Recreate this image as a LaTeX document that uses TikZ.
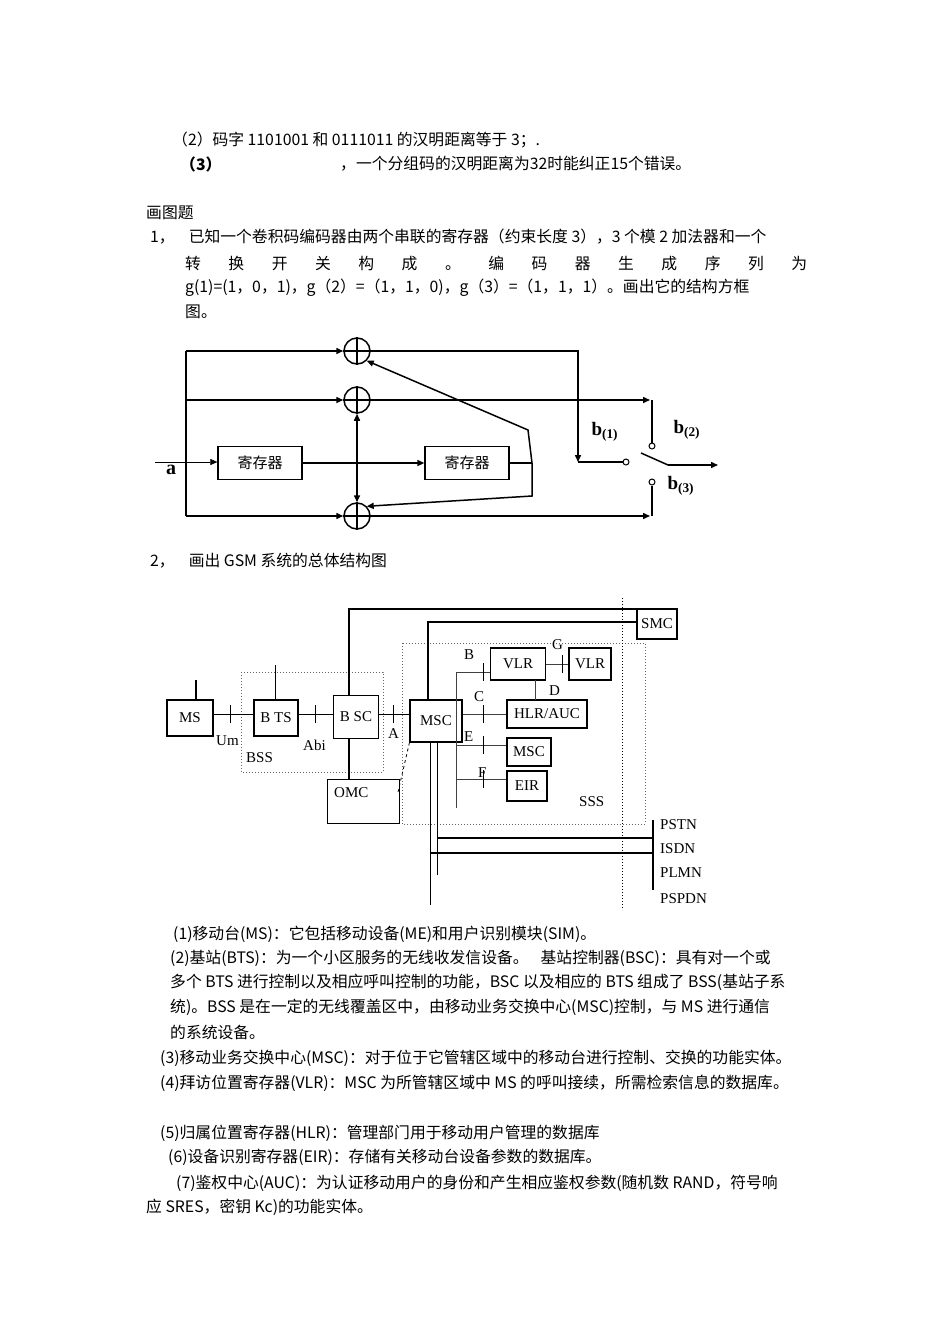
\documentclass[tikz,border=0pt]{standalone}
\usepackage{fontspec}
\setmainfont{Noto Sans CJK SC}
\newfontfamily\serifl{Liberation Serif}
\usetikzlibrary{arrows.meta}
\begin{document}
\begin{tikzpicture}[x=1pt,y=-1pt,
  txt/.style={anchor=west,inner sep=0pt,font=\fontsize{15.8}{18}\selectfont},
  reg/.style={draw,line width=1.3pt,minimum width=84pt,minimum height=33pt,inner sep=0pt,font=\fontsize{15}{17}\selectfont},
  adder/.style={draw,circle,line width=1.5pt,minimum size=26pt,inner sep=0pt},
  th/.style={line width=1.5pt},
  arr/.style={-{Triangle[length=7pt,width=6pt]}},
  box/.style={draw,line width=1.1pt,inner sep=0pt,font=\serifl\fontsize{15}{17}\selectfont},
  gl/.style={font=\serifl\fontsize{15}{17}\selectfont,inner sep=0pt,anchor=west},
  bus/.style={draw=black!75,line width=1pt},
  dot/.style={draw=black!60,dotted,line width=1pt}]
\useasboundingbox (0,0) rectangle (950,1344);
% top text
\node[txt] (t1) at (172,140) {（2）码字 1101001 和 0111011 的汉明距离等于 3；.};
\node[txt,font=\bfseries\fontsize{15.8}{18}\selectfont] (t2) at (180,164) {（3）};
\node[txt] (t3) at (340,164) {，一个分组码的汉明距离为32时能纠正15个错误。};
\node[txt] (t4) at (146,213) {画图题};
\node[txt] (t5) at (150,237) {1，\hspace{14pt}已知一个卷积码编码器由两个串联的寄存器（约束长度 3），3 个模 2 加法器和一个};
\node[txt,text width=622pt,align=flush left] (t6) at (185,263) {转\hfill 换\hfill 开\hfill 关\hfill 构\hfill 成\hfill 。\hfill 编\hfill 码\hfill 器\hfill 生\hfill 成\hfill 序\hfill 列\hfill 为};
\node[txt] (t7) at (185,288) {g(1)=(1，0，1)，g（2）=（1，1，0)，g（3）=（1，1，1）。画出它的结构方框};
\node[txt] (t8) at (185,312) {图。};
% encoder
\node[adder] (s1) at (357,351) {};
\node[adder] (s2) at (357,400) {};
\node[adder] (s3) at (357,516) {};
\foreach \s in {s1,s2,s3}{\draw[th] (\s.north)--(\s.south) (\s.west)--(\s.east);}
\node[reg] (r1) at (260,463) {寄存器};
\node[reg] (r2) at (467,463) {寄存器};
\node[font=\serifl\bfseries\fontsize{20}{22}\selectfont] (a) at (171,470) {a};
\coordinate (ain) at (155,462);
\draw[arr,line width=0.5pt] (ain) -- (r1.west |- ain);
\draw[th] (186,351)--(186,516);
\draw[th,arr] (186,351)--(s1.west);
\draw[th,arr] (186,400)--(s2.west);
\draw[th,arr] (186,516)--(s3.west);
\draw[th,arr] (r1.east)--(r2.west);
\draw[th,{Triangle[length=7pt,width=6pt]}-{Triangle[length=7pt,width=6pt]}] (s2.south)--(s3.north);
\draw[th] (r2.east)--(532,463);
\draw[th,arr] (532,463)--(528,430)--(s1.south east);
\draw[th,arr] (532,463)--(532,496)--(s3.north east);
\node[draw,circle,line width=1pt,minimum size=6pt,inner sep=0pt] (c1) at (626,462) {};
\node[draw,circle,line width=1pt,minimum size=6pt,inner sep=0pt] (c2) at (652,446) {};
\node[draw,circle,line width=1pt,minimum size=6pt,inner sep=0pt] (c3) at (652,482) {};
\draw[th,arr] (s1.east)--(578,351)--(578,462);
\draw[th] (578,462)--(c1.west);
\draw[th,arr] (s2.east)--(650,400);
\draw[th] (652,400)--(c2.north);
\draw[th,arr] (s3.east)--(650,516);
\draw[th] (652,516)--(c3.south);
\coordinate (sw) at (668,465);
\draw[th] (641,453)--(sw);
\draw[th,arr] (sw)--(718,465);
\node[font=\serifl\bfseries\fontsize{19}{21}\selectfont,anchor=west] (b1) at (588,432) {b\textsubscript{(1)}};
\node[font=\serifl\bfseries\fontsize{19}{21}\selectfont,anchor=west] (b2) at (670,430) {b\textsubscript{(2)}};
\node[font=\serifl\bfseries\fontsize{19}{21}\selectfont,anchor=west] (b3) at (664,486) {b\textsubscript{(3)}};
\node[txt] (t9) at (150,561) {2，\hspace{14pt}画出 GSM 系统的总体结构图};
% GSM
\draw[dot] (241,672) rectangle (383,772);
\draw[dot] (402,643) rectangle (645,824);
\draw[black,dotted,line width=1pt] (622,598)--(622,910);
\node[box,minimum width=46pt,minimum height=36pt] (ms) at (190,718) {MS};
\node[box,minimum width=44pt,minimum height=36pt] (bts) at (276,718) {B TS};
\node[box,minimum width=45pt,minimum height=43pt] (bsc) at (356,717) {B SC};
\node[box,minimum width=52pt,minimum height=42pt] (msc) at (436,721) {MSC};
\node[box,minimum width=40pt,minimum height=30pt] (smc) at (657,624) {SMC};
\node[box,minimum width=55pt,minimum height=32pt] (vlr1) at (518,664) {VLR};
\node[box,minimum width=42pt,minimum height=32pt] (vlr2) at (590,664) {VLR};
\node[box,minimum width=80pt,minimum height=28pt] (hlr) at (547,714) {HLR/AUC};
\node[box,minimum width=44pt,minimum height=28pt] (msc2) at (529,752) {MSC};
\node[box,minimum width=40pt,minimum height=30pt] (eir) at (527,786) {EIR};
\node[box,minimum width=72pt,minimum height=44pt,anchor=north west] (omc) at (327,779) {};
\node[gl] (omct) at (334,793) {OMC};
\draw[line width=2pt] (196,680)--(ms.north -| 196,0);
\draw[line width=1pt] (275,665)--(bts.north -| 275,0);
\draw[line width=1pt] (ms.east |- 0,714)--(bts.west |- 0,714);
\draw[line width=1pt] (bts.east |- 0,714)--(bsc.west |- 0,714);
\draw[line width=1pt] (bsc.east |- 0,714)--(msc.west |- 0,714);
\foreach \x in {230,315,393}{\draw[line width=0.8pt] (\x,705)--(\x,723);}
\node[gl] (um) at (216,741) {Um};
\node[gl] (abi) at (303,745) {Abi};
\node[gl] (bss) at (246,758) {BSS};
\node[gl] (la) at (388,734) {A};
\draw[line width=2pt] (bsc.north -| 349,0)--(349,609)--(smc.west |- 0,609);
\draw[line width=2pt] (bsc.south -| 349,0)--(omc.north -| 349,0);
\draw[line width=2pt] (msc.north -| 428,0)--(428,622)--(smc.west |- 0,622);
\draw[dashed,line width=0.8pt] (msc.south west)--(398,792);
\draw[bus] (456,672)--(456,808);
\draw[bus] (456,672)--(vlr1.west |- 0,672);
\draw[bus] (msc.east |- 0,714)--(hlr.west |- 0,714);
\draw[bus] (456,745)--(msc2.west |- 0,745);
\draw[bus] (456,779)--(eir.west |- 0,779);
\foreach \y in {672,714,745,779}{\draw[line width=0.8pt] (483,\y-9)--(483,\y+9);}
\draw[bus] (vlr1.east |- 0,664)--(vlr2.west |- 0,664);
\draw[line width=0.8pt] (562,655)--(562,673);
\draw[bus] (535,680)--(535,700);
\node[gl] (lb) at (464,655) {B};
\node[gl] (lc) at (474,697) {C};
\node[gl] (le) at (464,737) {E};
\node[gl] (lf) at (478,773) {F};
\node[gl] (lg) at (552,645) {G};
\node[gl] (ld) at (549,691) {D};
\node[gl] (sss) at (579,802) {SSS};
\draw[line width=1pt] (430,742)--(430,905);
\draw[line width=1pt] (437,742)--(437,875);
\draw[line width=2pt] (437,838)--(653,838);
\draw[line width=2pt] (430,853)--(653,853);
\draw[line width=1.2pt] (653,820)--(653,890);
\node[gl] (pstn) at (660,825) {PSTN};
\node[gl] (isdn) at (660,849) {ISDN};
\node[gl] (plmn) at (660,873) {PLMN};
\node[gl] (pspdn) at (660,899) {PSPDN};
% bottom text
\node[txt] (u1) at (173,934) {(1)移动台(MS)：它包括移动设备(ME)和用户识别模块(SIM)。};
\node[txt] (u2) at (170,958) {(2)基站(BTS)：为一个小区服务的无线收发信设备。\hspace{12pt}基站控制器(BSC)：具有对一个或};
\node[txt] (u3) at (170,982) {多个 BTS 进行控制以及相应呼叫控制的功能，BSC 以及相应的 BTS 组成了 BSS(基站子系};
\node[txt] (u4) at (170,1007) {统)。BSS 是在一定的无线覆盖区中，由移动业务交换中心(MSC)控制，与 MS 进行通信};
\node[txt] (u5) at (170,1032) {的系统设备。};
\node[txt] (u6) at (160,1058) {(3)移动业务交换中心(MSC)：对于位于它管辖区域中的移动台进行控制、交换的功能实体。};
\node[txt] (u7) at (160,1083) {(4)拜访位置寄存器(VLR)：MSC 为所管辖区域中 MS 的呼叫接续，所需检索信息的数据库。};
\node[txt] (u8) at (160,1133) {(5)归属位置寄存器(HLR)：管理部门用于移动用户管理的数据库};
\node[txt] (u9) at (168,1157) {(6)设备识别寄存器(EIR)：存储有关移动台设备参数的数据库。};
\node[txt] (u10) at (176,1183) {(7)鉴权中心(AUC)：为认证移动用户的身份和产生相应鉴权参数(随机数 RAND，符号响};
\node[txt] (u11) at (146,1207) {应 SRES，密钥 Kc)的功能实体。};
\end{tikzpicture}
\end{document}
